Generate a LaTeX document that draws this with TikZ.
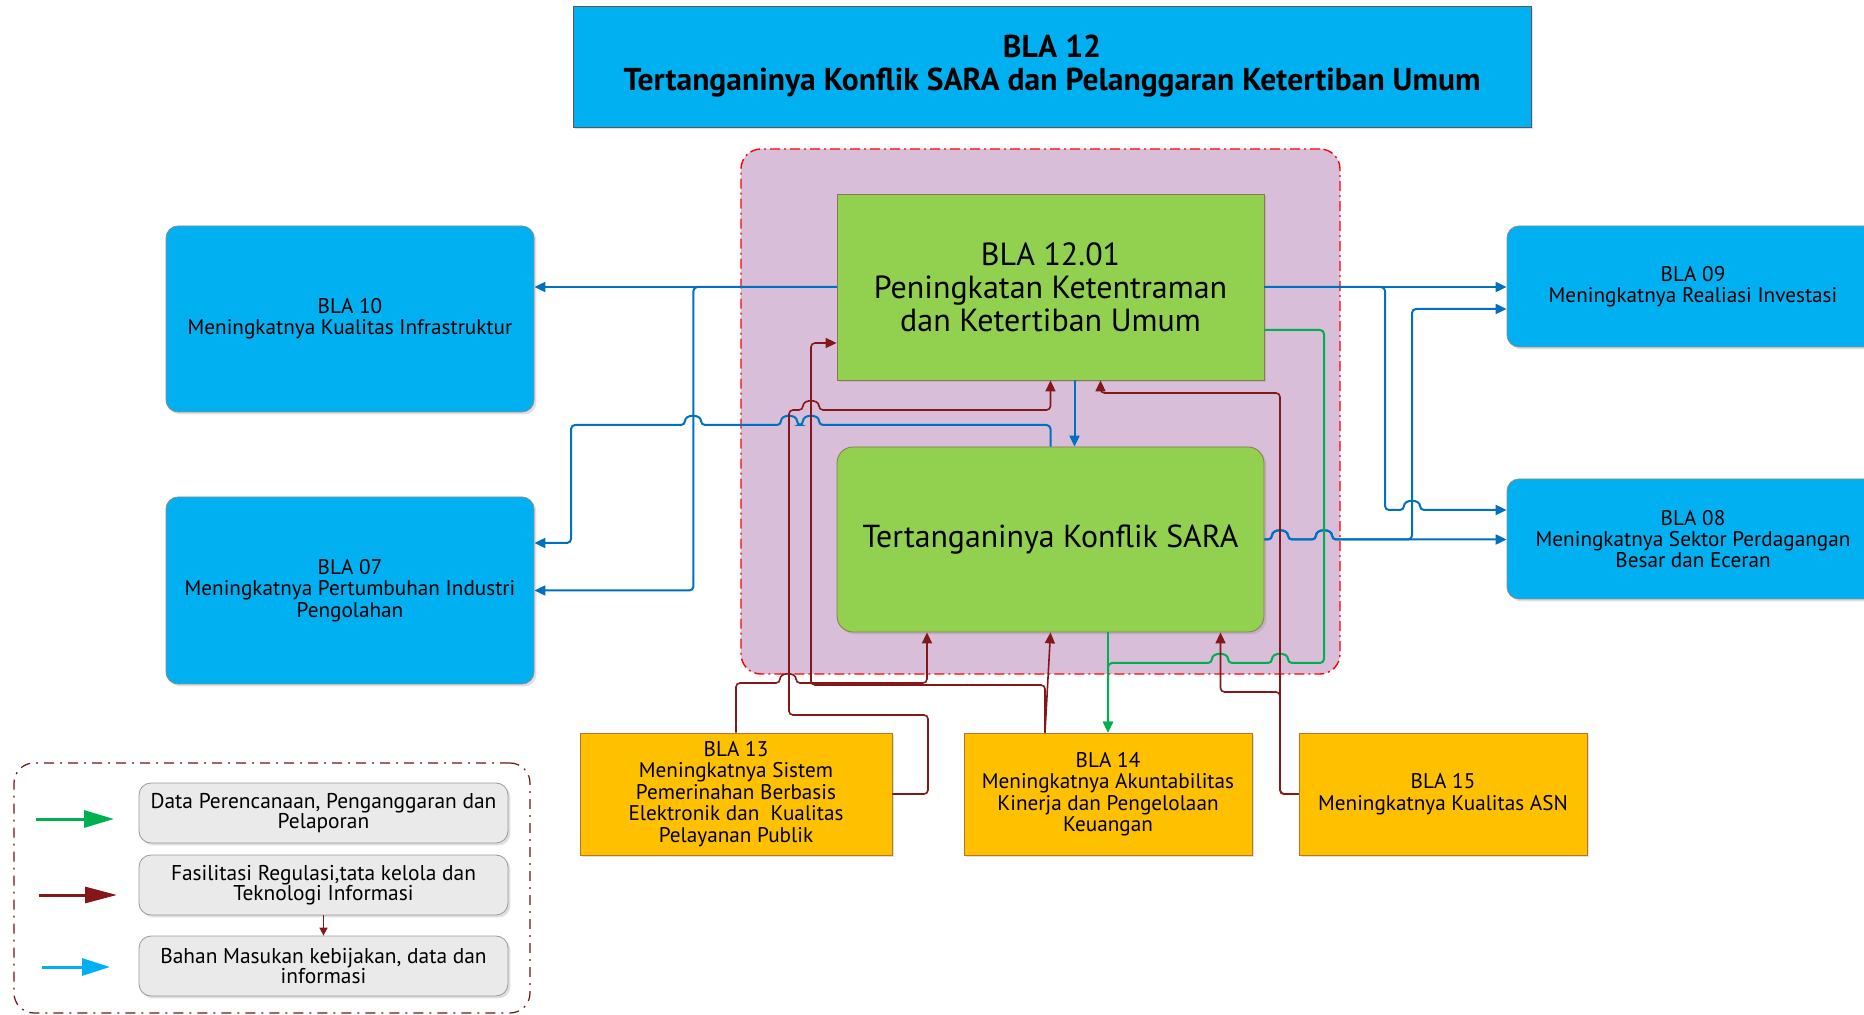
\documentclass[tikz,border=0pt]{standalone}
\usepackage{fontspec}
\setmainfont{PT Sans}
\usepackage{tikz}
\usetikzlibrary{arrows.meta,calc,shadows}
\definecolor{blaCyan}{RGB}{0,176,240}
\definecolor{blaGreen}{RGB}{146,208,80}
\definecolor{blaGold}{RGB}{255,192,0}
\definecolor{blaMauve}{RGB}{216,190,216}
\definecolor{blaGrey}{RGB}{234,234,234}
\definecolor{lnBlue}{RGB}{0,112,192}
\definecolor{lnRed}{RGB}{132,24,24}
\definecolor{lnGreen}{RGB}{0,176,80}
\definecolor{lnOlive}{RGB}{140,120,80}
\definecolor{lnBrown}{RGB}{176,120,40}
% line jumps over a vertical line at x=#1, level y=#2
\newcommand*{\hopL}[2]{-- (#1+8,#2) .. controls (#1+8,#2-11) and (#1-8,#2-11) .. (#1-8,#2)}
\newcommand*{\hopR}[2]{-- (#1-8,#2) .. controls (#1-8,#2-11) and (#1+8,#2-11) .. (#1+8,#2)}

\begin{document}
\begin{tikzpicture}[x=0.5pt,y=-0.5pt,
	font=\fontsize{10.6}{10.7}\selectfont,
	shade/.style={drop shadow={shadow xshift=1.2pt,shadow yshift=-1.2pt,opacity=0.25}},
	cbox/.style={draw=black!45,fill=blaCyan,rounded corners=6pt,align=center,inner sep=0pt,shade},
	gbox/.style={draw=lnOlive,fill=blaGreen,align=center,inner sep=0pt,shade},
	ybox/.style={draw=lnBrown,fill=blaGold,align=center,inner sep=0pt,shade},
	lbox/.style={draw=black!40,fill=blaGrey,rounded corners=6pt,align=center,inner sep=0pt,
		minimum width=184.5pt,minimum height=30pt,font=\fontsize{10.7}{10}\selectfont,shade},
	tip/.style={-{Triangle[length=5.5pt,width=5pt]}},
	bline/.style={draw=lnBlue,line width=1pt,rounded corners=2pt,tip},
	rline/.style={draw=lnRed,line width=0.8pt,rounded corners=2pt,tip},
	gline/.style={draw=lnGreen,line width=1pt,rounded corners=2pt,tip}]
	\useasboundingbox (0,0) rectangle (1864,1015);
	% groups
	\node[draw=red,line width=0.7pt,fill=blaMauve,rounded corners=10pt,dash pattern=on 5pt off 2pt on 1pt off 2pt,
		minimum width=299.5pt,minimum height=262.5pt] (grp) at (1040.5,411.5) {};
	\node[draw=lnRed!85!black,line width=0.6pt,rounded corners=10pt,dash pattern=on 5pt off 3pt on 1pt off 3pt,
		minimum width=258pt,minimum height=125pt] (leg) at (272,888) {};
	% boxes
	\node[draw=black!65,fill=blaCyan,align=center,inner sep=0pt,minimum width=479pt,minimum height=60.5pt,
		font=\fontsize{15.8}{16.5}\selectfont\bfseries,shade] (top) at (1052,66.5)
		{BLA 12\\Tertanganinya Konflik SARA dan Pelanggaran Ketertiban Umum};
	\node[gbox,minimum width=213.5pt,minimum height=93pt,font=\fontsize{16}{16.5}\selectfont] (b1201) at (1050.5,287)
		{BLA 12.01\\Peningkatan Ketentraman\\dan Ketertiban Umum};
	\node[gbox,rounded corners=8pt,minimum width=213.5pt,minimum height=92.5pt,font=\fontsize{15.9}{16.5}\selectfont] (sara) at (1050.5,539.5)
		{Tertanganinya Konflik SARA};
	\node[cbox,minimum width=184pt,minimum height=93pt] (b10) at (350,319)
		{BLA 10\\Meningkatnya Kualitas Infrastruktur};
	\node[cbox,minimum width=184pt,minimum height=93.5pt] (b07) at (350,590.5)
		{BLA 07\\Meningkatnya Pertumbuhan Industri\\Pengolahan};
	\node[cbox,minimum width=186pt,minimum height=60.5pt] (b09) at (1693,286.5)
		{BLA 09\\Meningkatnya Realiasi Investasi};
	\node[cbox,minimum width=186pt,minimum height=60pt] (b08) at (1693,539)
		{BLA 08\\Meningkatnya Sektor Perdagangan\\Besar dan Eceran};
	\node[ybox,minimum width=156pt,minimum height=61pt] (b13) at (736,794)
		{BLA 13\\Meningkatnya Sistem\\Pemerinahan Berbasis\\Elektronik dan\ \ Kualitas\\Pelayanan Publik};
	\node[ybox,minimum width=144pt,minimum height=61pt] (b14) at (1108,794)
		{BLA 14\\Meningkatnya Akuntabilitas\\Kinerja dan Pengelolaan\\Keuangan};
	\node[ybox,minimum width=144pt,minimum height=61pt] (b15) at (1443,794)
		{BLA 15\\Meningkatnya Kualitas ASN};
	% legend
	\node[lbox] (l1) at (323.5,813) {Data Perencanaan, Penganggaran dan\\Pelaporan};
	\node[lbox] (l2) at (323.5,885) {Fasilitasi Regulasi,tata kelola dan\\Teknologi Informasi};
	\node[lbox] (l3) at (323.5,966) {Bahan Masukan kebijakan, data dan\\informasi};
	\coordinate (g1) at (36,819); \coordinate (g2) at (114,819);
	\coordinate (r1) at (39,895); \coordinate (r2) at (117,895);
	\coordinate (c1) at (42,967); \coordinate (c2) at (110,967);
	\draw[lnGreen,line width=1.5pt,-{Triangle[length=15pt,width=8.5pt]}] (g1) -- (g2);
	\draw[lnRed,line width=1.5pt,-{Triangle[length=16pt,width=8pt]}] (r1) -- (r2);
	\draw[blaCyan,line width=1.5pt,-{Triangle[length=14pt,width=8.5pt]}] (c1) -- (c2);
	\draw[lnRed,line width=0.8pt,-{Triangle[length=4pt,width=4pt]}] (l2.south) -- (l3.north);
	% blue lines
	\draw[bline] (b1201.west) -- (b1201.west -| b10.east);
	\draw[bline] (b1201.west) -| ($(b07.east)+(159,0)$) -- (b07.east);
	\draw[bline] (sara.north) -- (sara.north |- 0,425) \hopL{811}{425} \hopL{789}{425} \hopL{693}{425}
		-- (571,425) -- (571,543) -- ($(b07.east)+(0,-47.5)$);
	\draw[bline] ($(b1201.south)+(24,0)$) -- ($(sara.north)+(24,0)$);
	\draw[bline] (b1201.east) -- (b1201.east -| b09.west);
	\draw[bline] (b1201.east) -- (1385,287) -- (1385,510) \hopR{1412}{510} -- ($(b08.west)+(0,-29)$);
	\draw[bline] (sara.east) \hopR{1280}{539.5} \hopR{1324}{539.5} -- (sara.east -| b08.west);
	\draw[bline] (sara.east) \hopR{1280}{539.5} \hopR{1324}{539.5} -- (1412,539.5) -- (1412,309)
		-- ($(b09.west)+(0,22.5)$);
	% green lines
	\draw[gline] ($(b1201.east)+(0,43)$) -- (1324,330) -- (1324,663) \hopL{1280}{663} \hopL{1220}{663}
		-- (1108,663) -- (b14.north);
	\draw[gline] (sara.south -| b14.north) -- (b14.north);
	% red lines
	\draw[rline] (b13.north) -- (736,683) \hopR{788}{683} -- (927,683) -- ($(sara.south)+(-123.5,0)$);
	\draw[rline] ($(b14.north)+(-63,0)$) -- (1045,685) -- (811,685) -- (811,343) -- ($(b1201.west)+(0,56)$);
	\draw[rline] ($(b14.north)+(-63,0)$) -- (sara.south);
	\draw[rline] (b13.east) -- (928,794) -- (928,715) -- (789,715) -- (789,410) \hopR{811}{410}
		-- (b1201.south |- 0,410) -- (b1201.south);
	\draw[rline] (b15.west) -- (1280,794) -- (1280,393) -- (1100.5,393) -- ($(b1201.south)+(50,0)$);
	\draw[rline] (b15.west) -- (1280,794) -- (1280,692) -- (1220.5,692) -- ($(sara.south)+(170,0)$);
\end{tikzpicture}
\end{document}
